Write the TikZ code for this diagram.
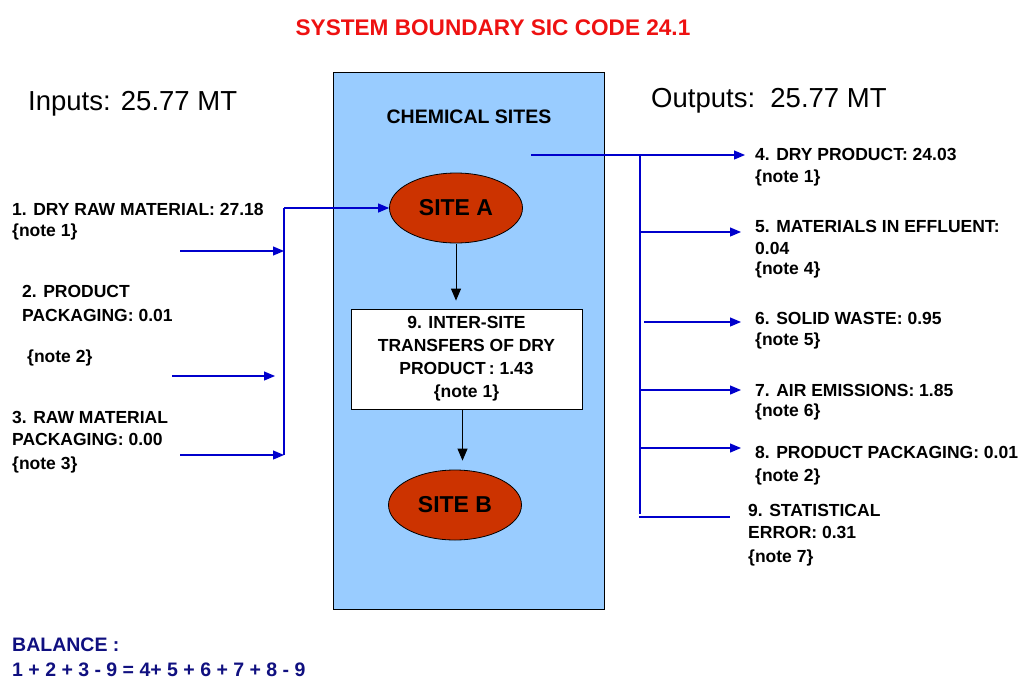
\documentclass[tikz,border=0pt]{standalone}
\usepackage{fontspec}
\setmainfont{Liberation Sans}
\usetikzlibrary{arrows.meta,shapes.geometric,calc}
\definecolor{flowblue}{HTML}{0000CC}
\definecolor{boxblue}{HTML}{99CCFF}
\definecolor{siteRed}{HTML}{CC3300}
\definecolor{titleRed}{HTML}{EE1111}
\definecolor{navyblue}{HTML}{101080}
\begin{document}
\begin{tikzpicture}[x=1pt,y=-1pt,
  lbl/.style={anchor=north west, inner sep=0pt, align=left, font=\fontsize{17.5}{22}\selectfont\bfseries},
  flow/.style={draw=flowblue, line width=1.2pt},
  flowarr/.style={flow, -{Triangle[length=11pt,width=9pt]}},
  blackarr/.style={draw=black, line width=1pt, -{Triangle[length=12pt,width=10pt]}},
  site/.style={ellipse, draw=black, line width=0.8pt, fill=siteRed, minimum width=133pt, minimum height=70pt, inner sep=0pt, font=\fontsize{23}{26}\selectfont\bfseries},
]
\useasboundingbox (0,0) rectangle (1019,680);

% title
\node[font=\fontsize{22.6}{26}\selectfont\bfseries, text=titleRed] (title) at (493,28) {SYSTEM BOUNDARY SIC CODE 24.1};

% system box
\node[draw=black, line width=1.2pt, fill=boxblue, minimum width=271pt, minimum height=537pt, inner sep=0pt, anchor=north west] (sys) at (333,72) {};
\node[font=\fontsize{19.5}{22}\selectfont\bfseries] (chem) at (469,117) {CHEMICAL SITES};

\node[site] (siteA) at (456,208) {SITE A};
\node[draw=black, fill=white, line width=0.8pt, minimum width=231pt, minimum height=100pt, inner sep=0pt, align=center, font=\fontsize{17.5}{23}\selectfont\bfseries] (xfer) at (466.5,359) {9. INTER-SITE\\TRANSFERS OF DRY\\PRODUCT\,: 1.43\\\{note 1\}};
\node[site] (siteB) at (455,505) {SITE B};

\draw[blackarr, shorten <=1pt, shorten >=8pt] (siteA.south) -- (siteA.south |- xfer.north);
\draw[blackarr, shorten >=9pt] ($(xfer.south)+(-4,0)$) -- ($(xfer.south |- siteB.north)+(-4,0)$);

% inputs
\node[anchor=west, inner sep=0pt, font=\fontsize{27.5}{32}\selectfont] (inputs) at (28,104) {Inputs: 25.77 MT};
\node[lbl] (in1) at (12,203.5) {1. DRY RAW MATERIAL: 27.18\\[-1pt]\{note 1\}};
\node[lbl, font=\fontsize{17.5}{24}\selectfont\bfseries] (in2) at (22,285.5) {2. PRODUCT\\PACKAGING: 0.01};
\node[lbl] (in2n) at (27,349.5) {\{note 2\}};
\node[lbl] (in3) at (12,411.5) {3. RAW MATERIAL\\PACKAGING: 0.00\\[2pt]\{note 3\}};

\coordinate (busT) at (284,208);
\coordinate (busB) at (284,455);
\coordinate (s1) at (180,251);
\coordinate (e1) at (284,251);
\coordinate (s2) at (172,376);
\coordinate (e2) at (275,376);
\coordinate (s3) at (180,455);

\draw[flow] (busT) -- (busB);
\draw[flowarr] (busT) -- (busT -| siteA.west);
\draw[flowarr] (s1) -- (e1);
\draw[flowarr] (s2) -- (e2);
\draw[flowarr] (s3) -- (busB);

% outputs
\node[anchor=west, inner sep=0pt, font=\fontsize{27.5}{32}\selectfont] (outputs) at (651,101) {Outputs:\ \ 25.77 MT};
\node[lbl] (o4) at (755,148.5) {4. DRY PRODUCT: 24.03\\\{note 1\}};
\node[lbl] (o5) at (755,220.5) {5. MATERIALS IN EFFLUENT:\\0.04\\[-2pt]\{note 4\}};
\node[lbl] (o6) at (755,312.5) {6. SOLID WASTE: 0.95\\[-1pt]\{note 5\}};
\node[lbl] (o7) at (755,384.5) {7. AIR EMISSIONS: 1.85\\[-2pt]\{note 6\}};
\node[lbl] (o8) at (755,446.5) {8. PRODUCT PACKAGING: 0.01\\[1pt]\{note 2\}};
\node[lbl] (o9) at (748,504.5) {9. STATISTICAL\\ERROR: 0.31\\[2pt]\{note 7\}};

\coordinate (src) at (531,155);
\coordinate (rT) at (640,155);
\coordinate (rB) at (640,514);
\coordinate (r5) at (640,232);
\coordinate (r6) at (644,322);
\coordinate (r7) at (640,390);
\coordinate (r8) at (640,448);
\coordinate (r9s) at (639,517);
\coordinate (r9e) at (730,517);
\coordinate (t4) at (745,155);
\coordinate (t5) at (741,232);
\coordinate (t6) at (741,322);
\coordinate (t7) at (741,390);
\coordinate (t8) at (741,448);

\draw[flow] (rT) -- (rB);
\draw[flowarr] (src) -- (t4);
\draw[flowarr] (r5) -- (t5);
\draw[flowarr] (r6) -- (t6);
\draw[flowarr] (r7) -- (t7);
\draw[flowarr] (r8) -- (t8);
\draw[flow] (r9s) -- (r9e);

% balance
\node[lbl, text=navyblue, font=\fontsize{19.5}{24.5}\selectfont\bfseries] (bal) at (12,638) {BALANCE :\\1 + 2 + 3 - 9 = 4+ 5 + 6 + 7 + 8 - 9};
\end{tikzpicture}
\end{document}
